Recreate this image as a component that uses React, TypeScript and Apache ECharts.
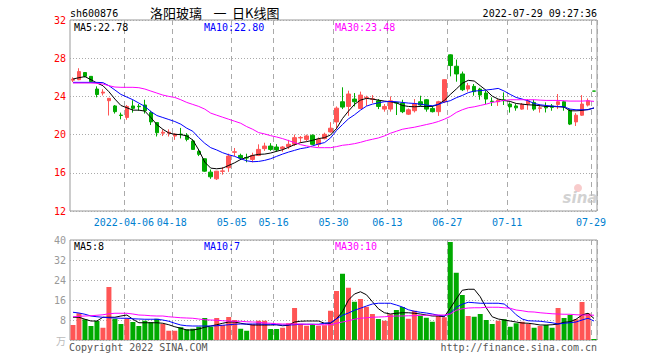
import React, { useEffect, useRef } from "react";
import * as echarts from "echarts";

const dates = [
  "2022-03-22","2022-03-23","2022-03-24","2022-03-25","2022-03-28","2022-03-29","2022-03-30","2022-03-31",
  "2022-04-01","2022-04-06","2022-04-07","2022-04-08","2022-04-11","2022-04-12","2022-04-13","2022-04-14",
  "2022-04-15","2022-04-18","2022-04-19","2022-04-20","2022-04-21","2022-04-22","2022-04-25","2022-04-26",
  "2022-04-27","2022-04-28","2022-04-29","2022-05-05","2022-05-06","2022-05-09","2022-05-10","2022-05-11",
  "2022-05-12","2022-05-13","2022-05-16","2022-05-17","2022-05-18","2022-05-19","2022-05-20","2022-05-23",
  "2022-05-24","2022-05-25","2022-05-26","2022-05-27","2022-05-30","2022-05-31","2022-06-01","2022-06-02",
  "2022-06-06","2022-06-07","2022-06-08","2022-06-09","2022-06-10","2022-06-13","2022-06-14","2022-06-15",
  "2022-06-16","2022-06-17","2022-06-20","2022-06-21","2022-06-22","2022-06-23","2022-06-24","2022-06-27",
  "2022-06-28","2022-06-29","2022-06-30","2022-07-01","2022-07-04","2022-07-05","2022-07-06","2022-07-07",
  "2022-07-08","2022-07-11","2022-07-12","2022-07-13","2022-07-14","2022-07-15","2022-07-18","2022-07-19",
  "2022-07-20","2022-07-21","2022-07-22","2022-07-25","2022-07-26","2022-07-27","2022-07-28","2022-07-29",
];

const opens = [
  25.7,25.75,26.5,26.1,24.77,24.35,23.55,23.0,22.05,21.8,23.0,22.97,23.1,22.3,21.26,20.15,
  20.15,19.85,20.05,19.93,19.33,18.25,17.47,16.07,15.37,16.15,16.53,18.15,17.82,17.6,17.4,17.82,
  18.53,18.8,18.7,18.53,18.74,18.98,19.65,19.5,19.93,18.98,19.58,20.28,21.33,23.44,22.95,23.72,
  22.74,23.85,23.7,23.54,22.67,22.67,23.35,23.3,22.14,22.5,23.44,23.65,22.74,22.4,23.44,28.35,
  27.16,26.35,24.77,25.05,24.77,24.35,23.5,23.44,23.65,23.2,23.0,22.67,23.2,23.37,22.75,22.95,
  23.0,23.16,23.44,22.56,21.33,22.03,23.09,24.56,
];
const closes = [
  25.8,26.6,26.1,25.55,24.2,24.45,23.8,22.4,22.0,22.95,22.75,22.92,22.5,21.33,20.2,20.25,
  20.25,20.05,20.0,19.5,18.45,17.93,16.17,15.58,16.17,16.2,17.75,18.2,17.54,17.55,17.82,18.45,
  18.8,18.45,18.4,18.7,18.98,19.68,19.7,19.86,18.98,19.5,20.03,20.67,22.77,22.88,24.25,23.44,
  24.14,23.9,23.75,22.95,22.95,23.54,23.3,22.4,22.6,23.2,23.1,22.67,22.4,23.44,25.75,27.23,
  26.35,24.7,25.12,24.5,24.14,23.72,23.45,23.6,23.55,22.9,22.8,23.16,23.54,22.67,22.8,22.8,
  22.85,23.44,22.9,21.1,22.03,23.2,23.54,24.55,
];
const lows = [
  25.5,25.7,26.0,25.5,23.9,24.1,22.0,22.2,21.6,21.55,22.3,22.5,22.2,21.0,19.8,19.85,
  19.8,19.45,19.6,19.3,18.4,17.75,16.1,15.37,15.25,15.8,16.1,17.75,17.33,17.1,17.1,17.75,
  18.3,18.3,18.2,18.2,18.5,18.8,19.15,19.3,18.9,18.7,19.5,20.2,20.56,22.67,21.96,22.95,
  22.67,23.0,23.3,22.67,22.4,22.4,22.05,22.25,22.05,22.32,22.95,22.4,22.32,21.96,23.3,26.1,
  25.54,24.56,24.5,24.07,23.65,23.2,23.0,23.0,23.1,22.3,22.5,22.6,22.6,22.5,22.3,22.32,
  22.5,22.67,22.5,21.0,20.9,21.96,22.95,24.55,
];
const highs = [
  26.0,26.95,26.55,26.1,25.05,24.75,23.8,23.1,22.3,23.1,23.6,23.2,23.65,22.5,21.3,20.55,
  20.55,20.15,20.7,20.15,19.5,18.5,17.5,16.35,16.2,16.6,18.0,18.6,18.0,18.0,18.1,18.98,
  19.15,19.1,19.0,18.8,19.45,20.0,19.85,20.0,20.03,19.7,20.2,21.3,22.95,24.95,24.6,24.35,
  24.5,24.07,24.14,23.72,23.2,24.0,23.44,23.65,22.74,23.72,24.07,23.72,23.0,23.54,25.8,28.4,
  27.86,26.6,25.4,25.3,24.9,24.6,23.9,23.72,24.42,23.37,23.2,23.3,23.72,23.65,23.1,23.37,
  23.2,24.25,23.54,22.67,22.25,24.14,23.79,24.56,
];

const ma5 = [
  25.82,25.96,26.07,25.75,25.4,25.12,24.49,23.72,23.05,22.81,22.56,22.56,22.46,21.79,21.05,20.56,
  20.17,20.03,20.0,19.86,19.44,18.39,17.12,16.49,16.42,16.49,16.77,17.05,17.4,17.61,17.82,17.93,
  17.96,18.07,18.25,18.42,18.67,18.95,19.16,19.26,19.4,19.58,19.68,19.96,20.63,21.68,22.46,23.16,
  23.61,23.79,23.72,23.61,23.51,23.44,23.33,23.05,22.95,22.91,22.95,22.95,22.95,23.16,23.58,24.2,
  24.77,25.37,25.68,25.61,25.12,24.63,24.03,23.72,23.58,23.47,23.26,23.19,23.12,23.09,23.02,22.95,
  22.95,22.91,22.88,22.49,22.49,22.53,22.63,22.78,
];
const ma10 = [
  25.47,25.47,25.47,25.47,25.47,25.44,25.12,24.67,24.21,23.93,23.65,23.3,22.95,22.42,22.0,21.79,
  21.58,21.37,21.09,20.67,20.35,19.68,19.09,18.63,18.39,18.1,17.89,17.72,17.47,17.26,17.16,17.19,
  17.3,17.47,17.72,17.96,18.17,18.35,18.53,18.63,18.81,19.02,19.16,19.65,20.42,21.05,21.65,22.07,
  22.56,22.98,23.19,23.33,23.44,23.47,23.44,23.37,23.3,23.26,23.19,23.09,23.02,23.16,23.4,23.55,
  23.86,24.1,24.39,24.56,24.6,24.67,24.74,24.84,24.56,24.21,23.89,23.72,23.54,23.26,23.12,23.05,
  22.98,22.95,22.91,22.67,22.6,22.6,22.6,22.8,
];
const ma30 = [
  25.4,25.4,25.4,25.4,25.37,25.3,25.12,24.98,24.95,24.95,24.95,24.91,24.77,24.56,24.35,24.14,
  24.0,23.89,23.65,23.37,23.16,22.95,22.67,22.25,22.03,21.82,21.61,21.4,21.19,20.84,20.56,20.21,
  20.07,19.89,19.75,19.58,19.37,19.16,18.95,18.81,18.7,18.63,18.63,18.63,18.74,18.88,18.95,19.05,
  19.19,19.37,19.51,19.65,19.86,20.14,20.35,20.56,20.67,20.77,20.91,21.05,21.19,21.37,21.61,21.9,
  22.32,22.6,22.81,22.91,23.05,23.19,23.37,23.47,23.58,23.65,23.65,23.65,23.65,23.65,23.61,23.58,
  23.58,23.58,23.54,23.51,23.51,23.51,23.54,23.48,
];

const volumes = [
  6.0,10.7,8.3,5.6,7.6,4.9,21.2,8.5,6.4,8.7,7.2,5.6,7.7,7.1,8.5,6.4,
  3.7,3.7,5.1,4.3,4.5,5.3,8.8,5.3,8.8,6.0,9.2,8.0,4.5,3.7,6.3,7.7,
  7.7,4.4,4.4,4.9,6.7,12.8,6.4,5.7,6.3,5.7,5.9,11.7,19.6,26.5,20.9,15.3,
  16.4,13.3,10.4,8.4,7.7,10.3,12.0,13.2,8.5,11.7,9.7,8.9,7.3,9.6,9.1,39.2,
  26.9,18.0,9.6,9.3,10.4,8.0,6.4,7.7,8.3,5.3,6.7,7.3,6.4,4.9,5.6,6.0,
  4.9,12.8,8.8,10.0,8.3,15.2,10.7,0.4,
];
const volMa5 = [
  9.1,9.1,8.3,7.6,7.6,9.1,9.1,9.1,9.6,10.0,8.3,6.9,6.9,6.9,6.9,6.7,
  6.1,5.3,4.7,4.0,4.0,4.4,5.1,5.6,6.1,6.7,7.2,7.2,6.7,6.3,6.0,6.0,
  6.0,6.0,6.1,5.7,5.9,7.2,7.5,7.6,7.6,7.6,6.7,6.7,8.5,11.3,16.0,18.4,
  19.3,18.1,15.3,12.5,10.9,10.4,10.7,10.9,10.9,10.7,10.4,10.0,9.6,9.6,9.3,12.7,
  16.4,19.9,20.3,20.3,17.3,12.9,9.3,8.4,8.0,7.6,7.2,6.8,6.7,6.4,6.0,6.0,
  6.1,6.4,7.1,7.3,8.3,10.0,10.7,8.6,
];
const volMa10 = [
  11.1,10.8,10.3,9.6,9.3,9.1,8.9,8.8,8.7,8.7,8.5,8.4,8.3,8.3,8.3,8.0,
  7.5,6.7,6.0,5.7,5.6,5.6,5.6,5.6,5.7,5.9,6.1,6.3,6.4,6.4,6.4,6.4,
  6.3,6.3,6.1,6.0,6.0,6.1,6.3,6.3,6.3,6.3,6.7,6.9,8.5,9.9,10.8,11.9,
  12.7,13.6,14.4,14.7,14.7,14.7,14.0,13.2,12.1,11.5,11.1,10.8,10.4,9.9,9.6,10.7,
  13.1,14.3,15.1,14.9,14.7,14.7,14.7,14.7,14.4,12.5,10.1,8.4,7.7,7.6,7.5,7.2,
  6.9,6.4,6.7,6.9,7.2,8.0,8.7,7.6,
];
const volMa30 = [
  9.3,9.5,9.6,9.7,9.9,10.1,10.5,10.7,10.7,10.7,10.4,10.0,9.9,9.7,9.6,9.6,
  9.3,9.1,8.9,8.8,8.7,8.4,8.1,8.0,7.9,7.7,7.6,7.5,7.5,7.3,7.2,7.1,
  6.8,6.7,6.5,6.4,6.4,6.4,6.4,6.3,6.3,6.1,6.1,6.1,6.7,7.2,7.7,8.3,
  8.7,8.9,9.1,9.2,9.3,9.5,9.6,9.6,9.7,9.7,9.9,9.9,10.0,10.0,10.0,10.4,
  11.9,12.5,12.8,12.9,12.9,13.1,13.1,13.1,12.9,12.7,12.0,11.7,11.3,11.2,10.9,10.7,
  10.5,10.4,10.3,10.3,10.1,10.0,10.0,9.9,
];

const labelIdx = [9, 17, 27, 34, 44, 53, 63, 73, 87];
const priceTicks = { min: 12, max: 32, interval: 4 };
const volTicks = { min: 0, max: 40, interval: 8 };

const RED = "#ff5555";
const GREEN = "#00aa00";
const MONO = '"DejaVu Sans Mono", "Liberation Mono", monospace';

export default function App() {
  const ref = useRef<HTMLDivElement>(null);
  useEffect(() => {
    if (!ref.current) return;
    document.body.style.margin = "0";
    const chart = echarts.init(ref.current, undefined, { renderer: "svg" });
    const kData = dates.map((_, i) => [opens[i], closes[i], lows[i], highs[i]]);
    const volData = volumes.map((v, i) => ({
      value: v,
      itemStyle: { color: closes[i] > opens[i] ? RED : GREEN },
    }));
    const isLab = (i: number) => labelIdx.indexOf(i) >= 0;
    const gridLeft = 70;
    const gridRight = 63;
    const xBase = (gi: number, showLabels: boolean) => ({
      type: "category",
      gridIndex: gi,
      data: dates,
      boundaryGap: true,
      axisLine: { show: false },
      axisTick: { show: false },
      axisLabel: {
        show: showLabels,
        interval: (i: number) => isLab(i),
        formatter: (v: string, i: number) => (i === 9 ? v : v.slice(5)),
        color: "#0080d0",
        fontFamily: MONO,
        fontSize: 10,
        margin: 6,
        padding: [0, 6, 0, 0],
      },
      splitLine: {
        show: true,
        interval: (i: number) => isLab(i),
        lineStyle: { color: "#aaaaaa", type: [5, 4], width: 1 },
      },
    });
    const txt = (text: string, x: number, y: number, fill: string, font: string, align = "left") => ({
      type: "text",
      x,
      y,
      silent: true,
      z: 100,
      style: {
        text,
        fill,
        font,
        align,
        textAlign: align,
        verticalAlign: "middle",
        textVerticalAlign: "middle",
      },
    });
    const mono = `10px ${MONO}`;
    const cjk = '13px "Noto Sans CJK SC"';
    chart.setOption({
      animation: false,
      backgroundColor: "#ffffff",
      grid: [
        { left: gridLeft, right: gridRight, top: 20, height: 191, show: true, borderColor: "#999999", borderWidth: 1 },
        { left: gridLeft, right: gridRight, top: 240, height: 100, show: true, borderColor: "#999999", borderWidth: 1 },
      ],
      xAxis: [xBase(0, true), xBase(1, false)],
      yAxis: [
        {
          type: "value",
          gridIndex: 0,
          min: priceTicks.min,
          max: priceTicks.max,
          interval: priceTicks.interval,
          axisLine: { show: false },
          axisTick: { show: false },
          axisLabel: { color: "#ff0000", fontFamily: MONO, fontSize: 10, margin: 4 },
          splitLine: { show: true, lineStyle: { color: "#aaaaaa", type: [1, 2], width: 1 } },
        },
        {
          type: "value",
          gridIndex: 1,
          min: volTicks.min,
          max: volTicks.max,
          interval: volTicks.interval,
          axisLine: { show: false },
          axisTick: { show: false },
          axisLabel: {
            color: "#999999",
            fontFamily: MONO,
            fontSize: 10,
            margin: 4,
            formatter: (v: number) => (v === 0 ? "{u|万}" : String(v)),
            rich: { u: { color: "#bbbbbb", fontSize: 10, fontFamily: "Noto Sans CJK SC" } },
          },
          splitLine: { show: true, lineStyle: { color: "#aaaaaa", type: [1, 2], width: 1 } },
        },
      ],
      series: [
        {
          type: "candlestick",
          xAxisIndex: 0,
          yAxisIndex: 0,
          data: kData,
          barWidth: 4,
          itemStyle: { color: RED, color0: GREEN, borderColor: RED, borderColor0: GREEN, borderWidth: 1 },
          z: 3,
        },
        { type: "line", xAxisIndex: 0, yAxisIndex: 0, data: ma5, symbol: "none", lineStyle: { color: "#000000", width: 1 }, z: 4 },
        { type: "line", xAxisIndex: 0, yAxisIndex: 0, data: ma10, symbol: "none", lineStyle: { color: "#0000ff", width: 1 }, z: 4 },
        { type: "line", xAxisIndex: 0, yAxisIndex: 0, data: ma30, symbol: "none", lineStyle: { color: "#ff00ff", width: 1 }, z: 4 },
        { type: "bar", xAxisIndex: 1, yAxisIndex: 1, data: volData, barWidth: 5, z: 3 },
        { type: "line", xAxisIndex: 1, yAxisIndex: 1, data: volMa5, symbol: "none", lineStyle: { color: "#000000", width: 1 }, z: 4 },
        { type: "line", xAxisIndex: 1, yAxisIndex: 1, data: volMa10, symbol: "none", lineStyle: { color: "#0000ff", width: 1 }, z: 4 },
        { type: "line", xAxisIndex: 1, yAxisIndex: 1, data: volMa30, symbol: "none", lineStyle: { color: "#ff00ff", width: 1 }, z: 4 },
      ],
      graphic: [
        txt("sh600876", 70, 13, "#000000", mono),
        txt("洛阳玻璃", 150, 12, "#000000", cjk),
        txt("一", 220, 12, "#000000", cjk, "center"),
        txt("日K线图", 232, 12, "#000000", cjk),
        txt("2022-07-29 09:27:36", 597, 13, "#000000", mono, "right"),
        txt("MA5:22.78", 74, 27, "#000000", mono),
        txt("MA10:22.80", 204, 27, "#0000ff", mono),
        txt("MA30:23.48", 335, 27, "#ff00ff", mono),
        txt("MA5:8", 74, 246, "#000000", mono),
        txt("MA10:7", 204, 246, "#0000ff", mono),
        txt("MA30:10", 335, 246, "#ff00ff", mono),
        txt("Copyright 2022 SINA.COM", 69, 347, "#555555", mono),
        txt("http://finance.sina.com.cn", 597, 347, "#555555", mono, "right"),
        {
          type: "circle",
          silent: true,
          z: 1,
          shape: { cx: 578, cy: 188, r: 4 },
          style: { fill: "rgba(240,140,140,0.45)" },
        },
        txt("sina", 580, 198, "rgba(190,190,190,0.7)", 'italic bold 15px "DejaVu Sans"', "center"),
      ],
    });
    return () => chart.dispose();
  }, []);
  return <div ref={ref} style={{ width: 660, height: 360 }} />;
}
